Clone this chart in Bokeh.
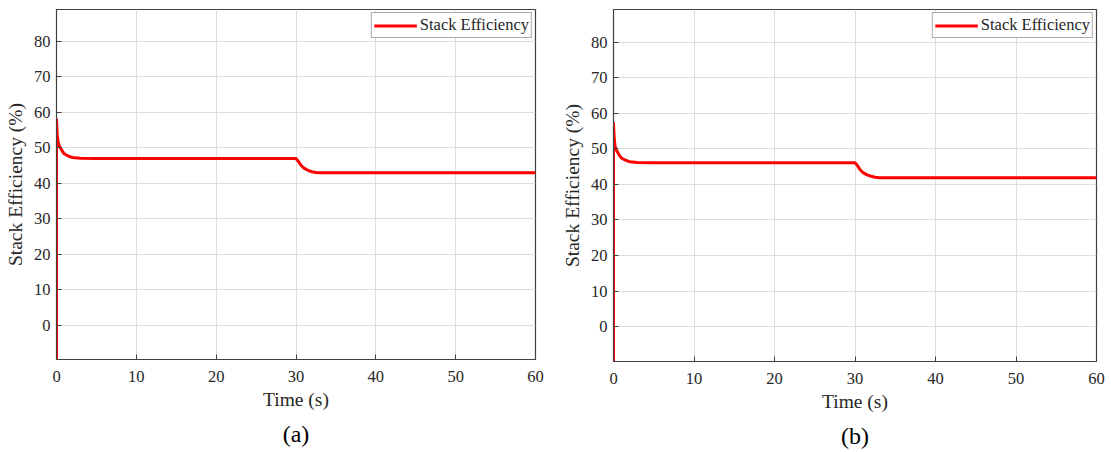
from bokeh.plotting import figure
from bokeh.layouts import row
from bokeh.models import Range1d, FixedTicker, Title, Legend, LegendItem
from bokeh.embed import file_html
from bokeh.resources import INLINE

# ---- data ----
time_s = [0, 0, 0.05, 0.1, 0.2, 0.35, 0.5, 0.75, 1.0, 1.5, 2.0, 3.0, 5, 10, 20, 30,
          30.3, 30.6, 31.0, 31.5, 32.0, 32.5, 33.0, 34, 36, 40, 50, 60]
eff_a = [-9.6, 58.3, 55.5, 53.6, 51.6, 50.6, 50.0, 49.0, 48.3, 47.7, 47.3, 47.1, 47.0, 47.0, 47.0, 47.0,
         46.2, 45.2, 44.3, 43.7, 43.3, 43.1, 43.0, 43.0, 43.0, 43.0, 43.0, 43.0]
eff_b = [-9.8, 57.5, 54.6, 52.7, 50.7, 49.7, 49.1, 48.1, 47.4, 46.8, 46.4, 46.2, 46.1, 46.1, 46.1, 46.1,
         45.3, 44.3, 43.3, 42.7, 42.3, 42.0, 41.9, 41.9, 41.9, 41.9, 41.9, 41.9]
x_ticks = [0, 10, 20, 30, 40, 50, 60]
y_ticks = [0, 10, 20, 30, 40, 50, 60, 70, 80]
series_label = "Stack Efficiency"
panel_labels = ["(a)", "(b)"]

FONT = "Liberation Serif"
DARK = "#262626"


def make_panel(eff, tag, fw, fh, mb_left, mb_right, mb_top, ymin, ymax):
    p = figure(frame_width=fw, frame_height=fh, output_backend="svg", toolbar_location=None,
               x_range=Range1d(0, 60), y_range=Range1d(ymin, ymax),
               min_border_left=mb_left, min_border_right=mb_right,
               min_border_top=mb_top, min_border_bottom=10)
    p.outline_line_color = "#404040"
    p.outline_line_width = 1.2
    r = p.line(time_s, eff, line_color="#ff0000", line_width=3)

    p.xaxis.ticker = FixedTicker(ticks=x_ticks)
    p.yaxis.ticker = FixedTicker(ticks=y_ticks)
    p.axis.major_tick_in = 5
    p.axis.major_tick_out = 0
    p.axis.minor_tick_in = 0
    p.axis.minor_tick_out = 0
    p.axis.axis_line_color = "#404040"
    p.axis.major_tick_line_color = "#404040"
    p.axis.major_label_text_font = FONT
    p.axis.major_label_text_font_size = "16.5px"
    p.axis.major_label_text_color = DARK
    p.axis.axis_label_text_font = FONT
    p.axis.axis_label_text_font_size = "19.5px"
    p.axis.axis_label_text_font_style = "normal"
    p.axis.axis_label_text_color = DARK
    p.xaxis.axis_label = "Time (s)"
    p.yaxis.axis_label = "Stack Efficiency (%)"
    p.xaxis.major_label_standoff = 11
    p.xaxis.axis_label_standoff = 4
    p.yaxis.major_label_standoff = 6
    p.yaxis.axis_label_standoff = 5

    p.xgrid.ticker = FixedTicker(ticks=x_ticks)
    p.ygrid.ticker = FixedTicker(ticks=y_ticks)
    p.grid.grid_line_color = "#dedede"
    p.grid.grid_line_width = 1

    legend = Legend(items=[LegendItem(label=series_label, renderers=[r])],
                    location="top_right", margin=3, padding=2, spacing=0,
                    glyph_width=43, glyph_height=19, label_height=19,
                    label_standoff=3, label_text_font=FONT, label_text_font_size="16.5px",
                    label_text_color=DARK, border_line_color="#555555",
                    border_line_width=1, background_fill_alpha=1)
    p.add_layout(legend)

    t = Title(text=tag, align="center", text_font=FONT, text_font_size="24px",
              text_font_style="normal", text_color="black", standoff=12)
    p.add_layout(t, "below")
    return p


p1 = make_panel(eff_a, panel_labels[0], 479, 350, 56, 22, 8, -9.6, 89.0)
p2 = make_panel(eff_b, panel_labels[1], 483, 352, 56, 10, 9, -9.8, 89.2)

layout = row(p1, p2)
open("out.html", "w").write(file_html(layout, INLINE))
